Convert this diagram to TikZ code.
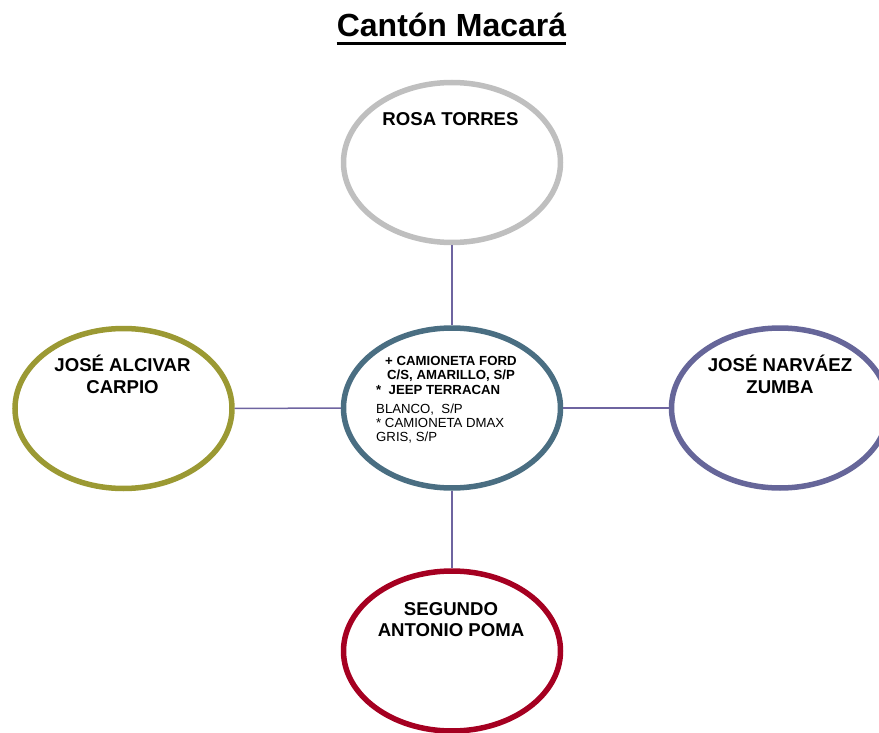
\documentclass[tikz,border=0pt]{standalone}
\usepackage{fontspec}
\setmainfont{Liberation Sans}
\usetikzlibrary{shapes.geometric}
\definecolor{rosagray}{RGB}{191,191,191}
\definecolor{olivering}{RGB}{155,153,51}
\definecolor{slatering}{RGB}{74,110,130}
\definecolor{violetring}{RGB}{102,102,153}
\definecolor{crimsonring}{RGB}{165,0,33}
\definecolor{linkviolet}{RGB}{110,100,160}
\begin{document}
\begin{tikzpicture}[
  x = 1pt, y = -1pt,
  person/.style = {
    shape = ellipse,
    draw = #1,
    line width = 5.5pt,
    minimum width = 217pt,
    minimum height = 160pt,
    inner sep = 0pt,
  },
  nametext/.style = {
    anchor = north,
    align = center,
    inner sep = 0pt,
    font = \fontsize{18.6}{21.7}\selectfont\bfseries,
  }
]
  \useasboundingbox (0, 0) rectangle (879, 733);

  \node[anchor = base, inner sep = 0pt, font = \fontsize{32}{32}\selectfont\bfseries]
    (title) at (451.5, 36.7) {Cantón Macará};
  \draw[line width = 3pt]
    ([yshift = -6.6pt]title.base west) -- ([yshift = -6.6pt]title.base east);

  \node[person = rosagray] (rosa) at (452, 162.5) {};
  \node[person = olivering] (jose1) at (123.5, 408.5) {};
  \node[person = slatering] (hub) at (452, 408) {};
  \node[person = violetring] (jose2) at (780, 408) {};
  \node[person = crimsonring] (segundo) at (452, 651) {};

  \node[nametext] (rosatxt) at (450.5, 112.5) {ROSA TORRES};
  \node[nametext] (jose1txt) at (122.5, 355) {JOSÉ ALCIVAR\\CARPIO};
  \node[nametext] (jose2txt) at (780, 355) {JOSÉ NARVÁEZ\\ZUMBA};
  \node[nametext] (segundotxt) at (451, 602) {SEGUNDO\\ANTONIO POMA};

  \node[anchor = north west, align = left, inner sep = 0pt,
        font = \fontsize{13.2}{14.3}\selectfont] (hubtxt) at (376, 356)
    {\hspace*{9pt}\textbf{+ CAMIONETA FORD}\\
     \hspace*{11pt}\textbf{C/S, AMARILLO, S/P}\\
     \textbf{*\ \ JEEP TERRACAN}\\[4.7pt]
     BLANCO,\ \ S/P\\
     * CAMIONETA DMAX\\
     GRIS, S/P};

  \begin{scope}[every path/.style = {draw = linkviolet, line width = 1.5pt}]
    \draw (rosa) -- (hub);
    \draw (jose1) -- (hub);
    \draw (hub) -- (jose2);
    \draw (hub) -- (segundo);
  \end{scope}
\end{tikzpicture}
\end{document}
